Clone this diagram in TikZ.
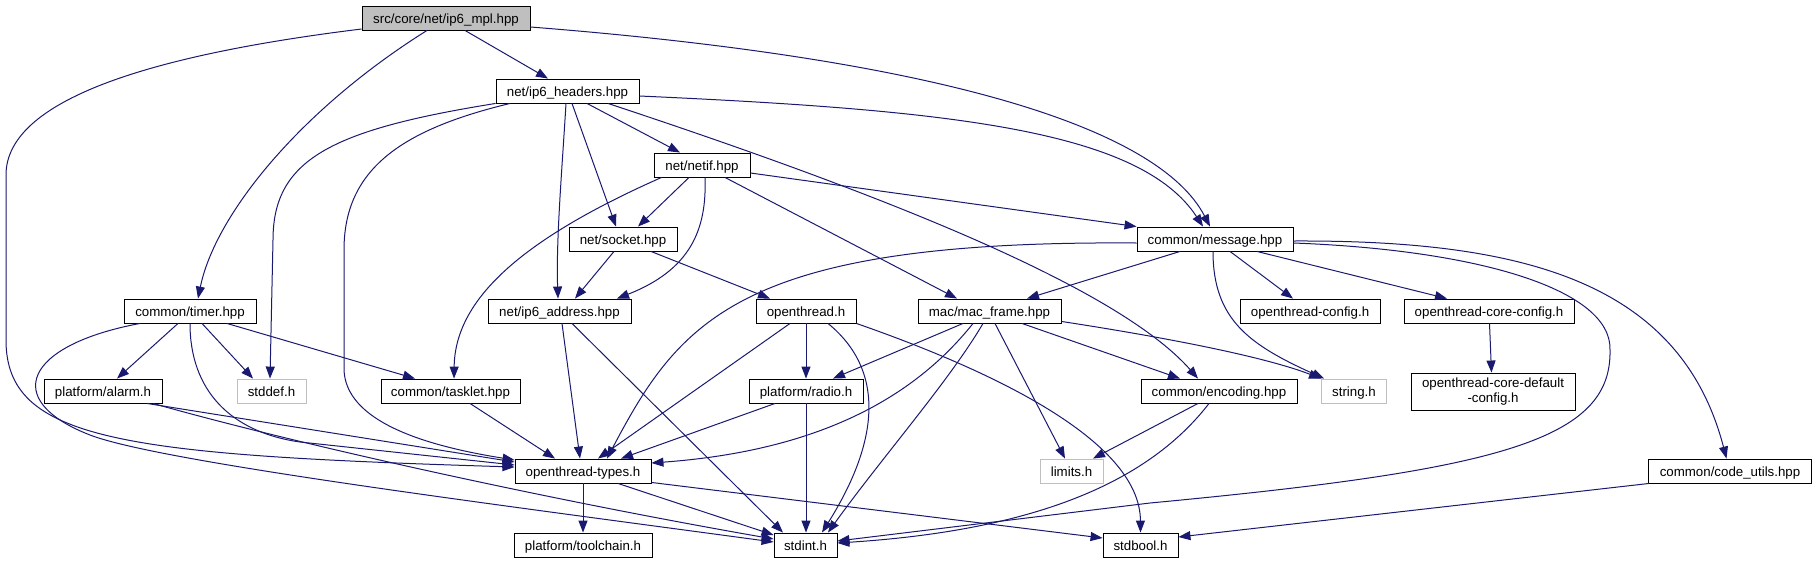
\documentclass[tikz,border=0pt]{standalone}
\usepackage{fontspec}
\setmainfont{Liberation Sans}
\usetikzlibrary{arrows.meta,calc}
\definecolor{edgeblue}{HTML}{191970}
\definecolor{lightborder}{HTML}{BFBFBF}
\definecolor{rootfill}{HTML}{BFBFBF}
\begin{document}
\begin{tikzpicture}[x=1pt,y=-1pt,
  nb/.style={draw=black, line width=0.9pt, fill=white, minimum height=24pt, inner sep=0pt,
    font=\fontsize{13.3}{15}\selectfont},
  box/.style={nb, text height=13.1pt, text depth=2.5pt},
  hbox/.style={box, draw=lightborder},
  box2/.style={nb, align=center},
  e/.style={draw=edgeblue, line width=1pt, -{Triangle[length=12pt,width=9pt]}},
]
\path[use as bounding box] (0,0) rectangle (1817,563);

% nodes
\node[box,fill=rootfill,minimum width=168pt] (mpl) at (446,18) {src/core/net/ip6\_mpl.hpp};
\node[box,minimum width=143pt] (hdr) at (567.5,91) {net/ip6\_headers.hpp};
\node[box,minimum width=96pt] (netif) at (702,165) {net/netif.hpp};
\node[box,minimum width=108pt] (sock) at (623,239) {net/socket.hpp};
\node[box,minimum width=156pt] (msg) at (1215,239) {common/message.hpp};
\node[box,minimum width=132pt] (timer) at (190,311) {common/timer.hpp};
\node[box,minimum width=143pt] (addr) at (559.5,311) {net/ip6\_address.hpp};
\node[box,minimum width=100pt] (oth) at (806,311) {openthread.h};
\node[box,minimum width=143pt] (mac) at (989.5,311) {mac/mac\_frame.hpp};
\node[box,minimum width=140pt] (otcfg) at (1310,311) {openthread-config.h};
\node[box,minimum width=170pt] (corecfg) at (1489,311) {openthread-core-config.h};
\node[box,minimum width=118pt] (alarm) at (103,391) {platform/alarm.h};
\node[hbox,minimum width=69pt] (stddef) at (271.5,391) {stddef.h};
\node[box,minimum width=139pt] (tasklet) at (450.5,391) {common/tasklet.hpp};
\node[box,minimum width=114pt] (radio) at (806,391) {platform/radio.h};
\node[box,minimum width=156pt] (enc) at (1219,391) {common/encoding.hpp};
\node[hbox,minimum width=65pt] (str) at (1354,391) {string.h};
\node[box2,minimum width=164pt,minimum height=37pt] (dflt) at (1493,391.5) {openthread-core-default\\-config.h};
\node[box,minimum width=136pt] (types) at (583,471) {openthread-types.h};
\node[hbox,minimum width=63pt] (limits) at (1071.5,471) {limits.h};
\node[box,minimum width=163pt] (code) at (1730,471) {common/code\_utils.hpp};
\node[box,minimum width=138pt] (tool) at (583,545) {platform/toolchain.h};
\node[box,minimum width=63pt] (stdint) at (805.5,545) {stdint.h};
\node[box,minimum width=75pt] (stdbool) at (1140.5,545) {stdbool.h};

% edges from ip6_mpl
\draw[e] ($(mpl.south)+(19,0)$) -- ($(hdr.north)+(-19.5,0)$);
\draw[e] ($(mpl.south)+(-19,0)$) .. controls (300,110) and (215,215) .. ($(timer.north)+(8,0)$);
\draw[e] ($(mpl.west)+(0,11)$) .. controls (150,55) and (6,100) .. (6,175) -- (6,340) .. controls (6,440) and (120,455) .. ($(types.west)+(0,-4)$);
\draw[e] ($(mpl.east)+(0,9)$) .. controls (950,60) and (1160,130) .. ($(msg.north)+(-5,0)$);

% edges from ip6_headers
\draw[e] ($(hdr.south)+(19.5,0)$) -- ($(netif.north)+(-22,0)$);
\draw[e] ($(hdr.south)+(4.5,0)$) -- ($(sock.north)+(-7,0)$);
\draw[e] ($(hdr.south)+(-1.5,0)$) .. controls (562,170) and (556,240) .. ($(addr.north)+(-1.5,0)$);
\draw[e] ($(hdr.east)+(0,5)$) .. controls (950,110) and (1140,130) .. ($(msg.north)+(-12,0)$);
\draw[e] ($(hdr.south)+(40.5,0)$) .. controls (900,200) and (1120,290) .. ($(enc.north)+(-21,0)$);
\draw[e] (hdr.south west) .. controls (330,130) and (273,160) .. (273,240) -- ($(stddef.north)+(-1.5,0)$);
\draw[e] ($(hdr.south)+(-57.5,0)$) .. controls (400,130) and (344,170) .. (344,250) -- (344,370) .. controls (346,420) and (420,445) .. ($(types.west)+(0,-11)$);

% edges from netif
\draw[e] ($(netif.south)+(-13,0)$) -- ($(sock.north)+(15,0)$);
\draw[e] ($(netif.south)+(3,0)$) .. controls (707,230) and (690,270) .. ($(addr.north)+(57.5,0)$);
\draw[e] ($(netif.south west)+(8,0)$) .. controls (520,240) and (455,300) .. ($(tasklet.north)+(3.5,0)$);
\draw[e] ($(netif.east)+(0,8)$) -- (msg.north west);
\draw[e] ($(netif.south)+(23,0)$) -- ($(mac.north)+(-32.5,0)$);

% edges from socket
\draw[e] ($(sock.south)+(-9,0)$) -- ($(addr.north)+(15.5,0)$);
\draw[e] ($(sock.south)+(28,0)$) -- ($(oth.north)+(-36,0)$);

% edges from message
\draw[e] ($(msg.west)+(0,4)$) .. controls (740,240) and (680,320) .. ($(types.north)+(24,0)$);
\draw[e] ($(msg.south)+(-35,0)$) -- ($(mac.north)+(37.5,0)$);
\draw[e] ($(msg.south)+(15,0)$) -- ($(otcfg.north)+(-17,0)$);
\draw[e] ($(msg.south)+(42,0)$) -- ($(corecfg.north)+(-42,0)$);
\draw[e] ($(msg.south)+(-2,0)$) .. controls (1213,320) and (1250,345) .. ($(str.north west)+(3,0)$);
\draw[e] ($(msg.east)+(0,4)$) .. controls (1480,250) and (1612,290) .. (1610,350) .. controls (1612,440) and (1500,470) .. (1150,503) -- ($(stdint.east)+(0,-4)$);
\draw[e] ($(msg.east)+(0,2)$) .. controls (1520,240) and (1680,280) .. ($(code.north)+(-3.5,0)$);

% edges from timer
\draw[e] ($(timer.south)+(-12,0)$) -- ($(alarm.north)+(14,0)$);
\draw[e] ($(timer.south)+(12,0)$) -- ($(stddef.north)+(-18.5,0)$);
\draw[e] ($(timer.south)+(37,0)$) -- ($(tasklet.north)+(-35.5,0)$);
\draw[e] (timer.south) .. controls (190,390) and (230,432) .. (300,442) -- ($(types.west)+(0,-6)$);
\draw[e] ($(timer.south)+(-50,0)$) .. controls (25,345) and (0,400) .. (90,435) .. controls (160,462) and (500,505) .. ($(stdint.west)+(0,-3)$);

% edges from ip6_address
\draw[e] ($(addr.south)+(2.5,0)$) -- ($(types.north)+(-3,0)$);
\draw[e] ($(addr.south)+(12.5,0)$) -- ($(stdint.north)+(-22.5,0)$);

% edges from openthread.h
\draw[e] (oth.south) -- (radio.north);
\draw[e] ($(oth.south)+(-16,0)$) -- ($(types.north)+(15,0)$);
\draw[e] ($(oth.south)+(22,0)$) .. controls (885,370) and (880,440) .. ($(stdint.north)+(16.5,0)$);
\draw[e] (oth.south east) .. controls (990,370) and (1140,440) .. (stdbool.north);

% edges from mac_frame
\draw[e] ($(mac.south)+(-26.5,0)$) -- ($(radio.north)+(27,0)$);
\draw[e] ($(mac.south)+(-16.5,0)$) .. controls (920,390) and (830,450) .. ($(types.east)+(0,-8)$);
\draw[e] ($(mac.south)+(-6.5,0)$) .. controls (950,380) and (880,460) .. ($(stdint.north)+(22.5,0)$);
\draw[e] ($(mac.south)+(5.5,0)$) -- ($(limits.north)+(-6.5,0)$);
\draw[e] ($(mac.south)+(32.5,0)$) -- ($(enc.north)+(-39,0)$);
\draw[e] ($(mac.south east)+(0,-2)$) .. controls (1150,335) and (1260,355) .. (str.north west);

% edges from encoding
\draw[e] ($(enc.south)+(-21,0)$) -- ($(limits.north)+(21.5,0)$);
\draw[e] ($(enc.south)+(-10,0)$) .. controls (1150,480) and (1040,530) .. ($(stdint.east)+(0,-2)$);

% core config
\draw[e] ($(corecfg.south)+(0.5,0)$) -- ($(dflt.north)+(-1.5,0)$);

% alarm, tasklet, radio
\draw[e] ($(alarm.south)+(44,0)$) -- ($(types.west)+(0,-9)$);
\draw[e] ($(alarm.south)+(50,0)$) .. controls (300,445) and (550,500) .. ($(stdint.west)+(0,-6)$);
\draw[e] ($(tasklet.south)+(19.5,0)$) -- ($(types.north)+(-28,0)$);
\draw[e] ($(radio.south)+(-31,0)$) -- ($(types.north)+(38,0)$);
\draw[e] (radio.south) -- ($(stdint.north)+(0.5,0)$);

% openthread-types
\draw[e] (types.south) -- (tool.north);
\draw[e] ($(types.south)+(35,0)$) -- ($(stdint.west)+(0,-10)$);
\draw[e] ($(types.south east)+(0,-1)$) -- ($(stdbool.west)+(0,-7)$);

% code_utils
\draw[e] ($(code.south west)+(1,0)$) -- ($(stdbool.east)+(0,-8)$);
\end{tikzpicture}
\end{document}
